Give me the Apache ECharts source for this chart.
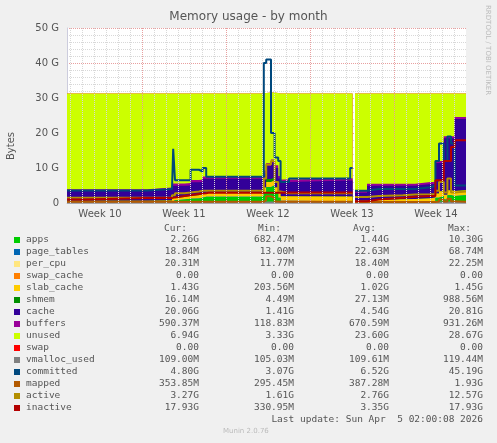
<!DOCTYPE html>
<html>
<head>
<meta charset="utf-8">
<script src="https://cdn.jsdelivr.net/npm/echarts@6/dist/echarts.min.js"></script>
<style>html,body{margin:0;padding:0;background:#f0f0f0;}#main{width:497px;height:443px;}</style>
</head>
<body>
<div id="main"></div>
<script>
// days since left edge of plot
const days = [0, 1.5, 6.7, 8.75, 8.85, 9.0, 9.8, 10.3, 11.0, 11.3, 11.6, 11.8, 16.2, 16.4, 16.6, 17.0, 17.3, 17.6, 17.8, 18.5, 23.6, 23.8, 24.0, 25.0, 26.0, 28.0, 29.0, 30.3, 30.7, 31.0, 31.4, 31.7, 32.0, 32.3, 33.25];
const weekLabels = ['Week 10', 'Week 11', 'Week 12', 'Week 13', 'Week 14'];
const weekCenters = [2.75, 9.75, 16.75, 23.75, 30.75];
const weekBounds = [6.25, 13.25, 20.25, 27.25];

const apps = [0.3,0.3,0.3,0.8,0.8,1.0,1.2,1.3,1.5,1.8,1.8,1.8,2.0,3.0,4.5,5.0,3.0,1.5,0.6,0.5,0.5,null,0.3,0.3,0.3,0.3,0.4,0.5,1.5,2.0,1.0,2.2,2.0,2.2,2.26];
const pageTables = [0.02,0.02,0.02,0.02,0.02,0.02,0.02,0.02,0.02,0.02,0.02,0.02,0.02,0.03,0.06,0.06,0.03,0.02,0.02,0.02,0.02,null,0.02,0.02,0.02,0.02,0.02,0.02,0.02,0.02,0.02,0.02,0.02,0.02,0.02];
const perCpu = [0.02,0.02,0.02,0.02,0.02,0.02,0.02,0.02,0.02,0.02,0.02,0.02,0.02,0.02,0.02,0.02,0.02,0.02,0.02,0.02,0.02,null,0.02,0.02,0.02,0.02,0.02,0.02,0.02,0.02,0.02,0.02,0.02,0.02,0.02];
const swapCache = [0,0,0,0,0,0,0,0,0,0,0,0,0,0,0,0,0,0,0,0,0,null,0,0,0,0,0,0,0,0,0,0,0,0,0];
const slabCache = [0.3,0.3,0.4,0.6,0.6,0.7,0.8,0.9,1.0,1.1,1.2,1.2,1.3,1.4,1.4,1.4,1.4,1.4,1.3,1.3,1.3,null,0.3,0.5,0.7,0.8,0.9,1.0,1.2,1.3,1.3,1.4,1.4,1.43,1.43];
const shmem = [0.02,0.02,0.02,0.02,0.02,0.02,0.02,0.02,0.02,0.02,0.02,0.02,0.02,0.02,0.9,0.9,0.02,0.02,0.02,0.02,0.02,null,0.02,0.02,0.02,0.02,0.02,0.02,0.02,0.02,0.02,0.02,0.02,0.02,0.02];
const cache = [2.74,2.74,3.14,3.44,3.44,3.14,2.94,3.64,3.44,3.94,3.84,3.84,3.54,4.04,3.66,4.16,5.54,4.04,4.04,4.54,4.54,null,2.24,4.04,3.84,3.74,4.04,3.84,8.64,8.04,16.14,14.84,15.04,20.31,20.25];
const buffers = [0.5,0.5,0.5,0.7,0.7,0.7,0.7,0.7,0.7,0.7,0.7,0.7,0.7,0.8,0.9,0.9,0.8,0.7,0.7,0.7,0.7,null,0.6,0.6,0.6,0.6,0.6,0.6,0.6,0.6,0.6,0.6,0.6,0.59,0.59];
const unused = [27.4,27.4,26.9,25.7,25.7,25.7,25.6,24.7,24.6,23.7,23.7,23.7,23.7,22.1,20.1,19.1,20.6,23.6,24.6,24.2,24.2,null,27.8,25.8,25.8,25.8,25.3,25.3,19.3,19.3,12.2,12.2,12.2,6.7,6.7];
const swap = [0,0,0,0,0,0,0,0,0,0,0,0,0,0,0,0,0,0,0,0,0,null,0,0,0,0,0,0,0,0,0,0,0,0,0];
const vmallocUsed = [0.11,0.11,0.11,0.11,0.11,0.11,0.11,0.11,0.11,0.11,0.11,0.11,0.11,0.11,0.11,0.11,0.11,0.11,0.11,0.11,0.11,null,0.11,0.11,0.11,0.11,0.11,0.11,0.11,0.11,0.11,0.11,0.11,0.11,0.11];
const committed = [3.6,3.6,4.0,4.5,15.5,6.5,6.5,9.5,9.0,10,7.5,7.5,7.5,40,41,20,13,12,6,7,10,null,3.5,4.0,4.0,4.0,4.5,5.0,12,17,12,19,17,5,4.8];
const mapped = [0.35,0.35,0.35,0.35,0.35,0.35,0.35,0.35,0.35,0.35,0.35,0.35,0.35,0.8,1.9,1.5,0.4,0.35,0.35,0.35,0.35,null,0.3,0.3,0.3,0.3,0.3,0.3,0.4,1.0,0.4,1.2,0.5,0.35,0.35];
const active = [1.5,1.5,1.6,2.2,2.2,2.8,3.0,3.3,3.5,3.5,3.5,3.5,3.5,7,11,12,6,3.3,2.8,2.8,2.8,null,1.7,2,2.2,2.4,2.5,2.6,3.5,6,3,7,3,3.3,3.27];
const inactive = [1.0,1.4,1.4,1.6,1.6,2.0,2.2,2.6,2.7,2.8,2.9,2.9,2.9,2.9,2.9,2.9,2.9,2.9,3.0,3.0,3.0,null,0.5,1.0,1.5,1.8,2.0,2.0,6.5,6.5,12,12,16,17.93,17.93];

const names = ['apps','page_tables','per_cpu','swap_cache','slab_cache','shmem','cache','buffers','unused','swap','vmalloc_used','committed','mapped','active','inactive'];
const colors = ['#00cc00','#0066b3','#ffe680','#ff8000','#ffcc00','#008f00','#330099','#990099','#ccff00','#ff0000','#808080','#00487d','#b35a00','#b38f00','#b30000'];
const curVals = ['2.26G','18.84M','20.31M','0.00','1.43G','16.14M','20.06G','590.37M','6.94G','0.00','109.00M','4.80G','353.85M','3.27G','17.93G'];
const minVals = ['682.47M','13.00M','11.77M','0.00','203.56M','4.49M','1.41G','118.83M','3.33G','0.00','105.03M','3.07G','295.45M','1.61G','330.95M'];
const avgVals = ['1.44G','22.63M','18.40M','0.00','1.02G','27.13M','4.54G','670.59M','23.60G','0.00','109.61M','6.52G','387.28M','2.76G','3.35G'];
const maxVals = ['10.30G','68.74M','22.25M','0.00','1.45G','988.56M','20.81G','931.26M','28.67G','0.00','119.44M','45.19G','1.93G','12.57G','17.93G'];

const stacked = [apps, pageTables, perCpu, swapCache, slabCache, shmem, cache, buffers, unused, swap];
const lines = [vmallocUsed, committed, mapped, active, inactive];
// each value holds until the next timestamp (rrd step)
const stepPairs = arr => {
  const out = [];
  arr.forEach((v, i) => {
    const next = i + 1 < days.length ? days[i + 1] : days[i];
    out.push([days[i], v]);
    out.push([next, v]);
  });
  return out;
};
// running totals of the stacked areas (AREA + STACK in rrd)
const tops = [];
stacked.forEach((arr, k) => {
  tops.push(arr.map((v, i) => (v == null ? null : (k ? tops[k - 1][i] : 0) + v)));
});

const myChart = echarts.init(document.getElementById('main'));
const series = [];
for (let k = stacked.length - 1; k >= 0; k--) {
  series.push({
    name: names[k], type: 'line', symbol: 'none',
    data: stepPairs(tops[k]), lineStyle: { width: 0 }, areaStyle: { color: colors[k], opacity: 1 },
    itemStyle: { color: colors[k] }, connectNulls: false, z: 2,
  });
}
lines.forEach((arr, i) => {
  series.push({
    name: names[10 + i], type: 'line', symbol: 'none', data: stepPairs(arr),
    lineStyle: { width: 2, color: colors[10 + i] }, connectNulls: false, z: 3,
  });
});
// grid lines via markLine
const dayLines = [];
for (let d = 1; d < 34; d++) dayLines.push({ xAxis: d - 0.75, lineStyle: { color: '#d8d8d8', type: 'dotted', width: 1 } });
series.push({
  type: 'line', data: [], silent: true, z: 1,
  markLine: {
    symbol: 'none', silent: true, animation: false,
    label: { show: false },
    data: dayLines.concat(weekBounds.map(w => ({ xAxis: w, lineStyle: { color: '#e8a0a0', type: 'dotted', width: 1 } }))),
  },
});

const legendGraphics = [];
const mono = '9.5px "DejaVu Sans Mono"';
['Cur:', 'Min:', 'Avg:', 'Max:'].forEach((h, j) => {
  legendGraphics.push({ type: 'text', right: 497 - [187, 281, 376, 471][j], top: 224, style: { text: h, font: mono, fill: '#555' } });
});
names.forEach((n, i) => {
  const y = 235 + i * 12;
  legendGraphics.push({ type: 'rect', left: 14, top: y + 2, shape: { width: 6, height: 6 }, style: { fill: colors[i] } });
  legendGraphics.push({ type: 'text', left: 26, top: y, style: { text: n, font: mono, fill: '#555' } });
  [curVals, minVals, avgVals, maxVals].forEach((col, j) => {
    legendGraphics.push({ type: 'text', right: 497 - [199, 294, 389, 483][j], top: y, style: { text: col[i], font: mono, fill: '#555' } });
  });
});
legendGraphics.push({ type: 'text', right: 14, top: 415, style: { text: 'Last update: Sun Apr  5 02:00:08 2026', font: mono, fill: '#555' } });
legendGraphics.push({ type: 'text', left: 223, top: 428, style: { text: 'Munin 2.0.76', font: '7px "DejaVu Sans"', fill: '#bbb' } });
legendGraphics.push({ type: 'text', left: 484, top: 5, rotation: -Math.PI / 2, style: { text: 'RRDTOOL / TOBI OETIKER', font: '7px "DejaVu Sans"', fill: '#bbb' } });
legendGraphics.push({ type: 'text', left: 6, top: 132, rotation: Math.PI / 2, style: { text: 'Bytes', font: '10px "DejaVu Sans"', fill: '#555' } });

const option = {
  backgroundColor: '#f0f0f0',
  animation: false,
  title: { text: 'Memory usage - by month', left: 'center', top: 6, textStyle: { fontSize: 12, fontWeight: 'normal', color: '#555', fontFamily: 'DejaVu Sans' } },
  grid: { left: 67, right: 31, top: 28, bottom: 240, backgroundColor: '#fff', show: true, borderWidth: 0 },
  xAxis: {
    type: 'value', min: 0, max: 33.25,
    axisLabel: { show: false }, axisTick: { show: false }, splitLine: { show: false },
    axisLine: { lineStyle: { color: '#ccd' } },
  },
  yAxis: {
    type: 'value', min: 0, max: 50, interval: 10,
    axisLabel: { formatter: v => (v === 0 ? '0' : v + ' G'), color: '#555', fontSize: 10, fontFamily: 'DejaVu Sans' },
    axisLine: { show: true, lineStyle: { color: '#ccd' } }, axisTick: { show: false },
    splitLine: { lineStyle: { color: '#e8a0a0', type: 'dotted' } },
    minorTick: { show: false, splitNumber: 5 },
    minorSplitLine: { show: true, lineStyle: { color: '#d8d8d8', type: 'dotted' } },
  },
  graphic: legendGraphics,
  series,
};
myChart.setOption(option);

// week labels placed through the x scale
const weekGraphics = weekCenters.map((w, i) => {
  const [px, py] = myChart.convertToPixel({ gridIndex: 0 }, [w, 0]);
  return {
    type: 'text', x: px, y: py + 6,
    style: { text: weekLabels[i], font: '10px "DejaVu Sans"', fill: '#555', align: 'center', verticalAlign: 'top' },
  };
});
myChart.setOption({ graphic: legendGraphics.concat(weekGraphics) });
</script>
</body>
</html>
